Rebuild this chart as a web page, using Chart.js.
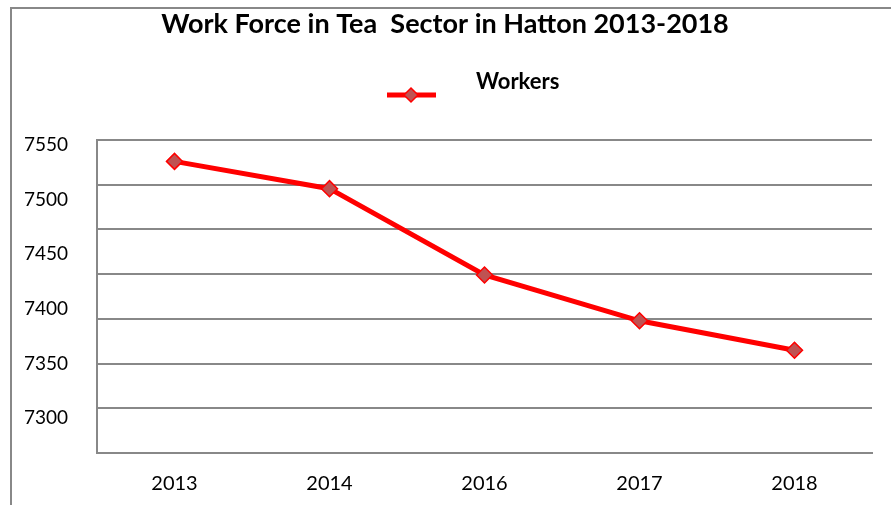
<!DOCTYPE html>
<html>
<head>
<meta charset="utf-8">
<script src="https://cdn.jsdelivr.net/npm/chart.js@4/dist/chart.umd.min.js"></script>
<style>
  html, body { margin: 0; padding: 0; background: #fff; }
  #wrap { width: 891px; height: 505px; }
</style>
</head>
<body>
<div id="wrap"><canvas id="chart" width="891" height="505"></canvas></div>
<script>
const years = ['2013', '2014', '2016', '2017', '2018'];
const workers = [7535, 7510, 7431, 7389, 7362];
const yTicks = [7300, 7350, 7400, 7450, 7500, 7550];
const gridSteps = [0, 1, 2, 3, 4, 5, 6, 7];

const titleText = 'Work Force in Tea  Sector in Hatton 2013-2018';
const seriesName = 'Workers';
const lineColor = '#ff0000';
const markerFill = '#bf5252';
const gridColor = '#888888';
const fontFamily = 'Lato, "Open Sans", sans-serif';

// frame, title and legend are drawn by hand to match the original layout
const decorations = {
    id: 'decorations',
    beforeDraw(chart) {
        const ctx = chart.ctx;
        ctx.save();
        ctx.strokeStyle = gridColor;
        ctx.lineWidth = 2;
        ctx.beginPath();
        ctx.moveTo(11, 505);
        ctx.lineTo(11, 8);
        ctx.lineTo(891, 8);
        ctx.stroke();
        ctx.restore();
    },
    afterDraw(chart) {
        const ctx = chart.ctx;
        ctx.save();
        ctx.fillStyle = '#000';
        ctx.textAlign = 'center';
        ctx.textBaseline = 'alphabetic';
        ctx.font = 'bold 27px ' + fontFamily;
        ctx.fillText(titleText, 445, 33);

        // legend line + marker
        ctx.strokeStyle = lineColor;
        ctx.lineWidth = 5;
        ctx.beginPath();
        ctx.moveTo(387, 95);
        ctx.lineTo(436, 95);
        ctx.stroke();
        ctx.fillStyle = markerFill;
        ctx.lineWidth = 1.5;
        ctx.beginPath();
        ctx.moveTo(411, 88); ctx.lineTo(418, 95); ctx.lineTo(411, 102); ctx.lineTo(404, 95);
        ctx.closePath();
        ctx.fill();
        ctx.stroke();

        ctx.fillStyle = '#000';
        ctx.textAlign = 'left';
        ctx.font = 'bold 22px ' + fontFamily;
        ctx.fillText(seriesName, 476, 89);
        ctx.restore();
    }
};

const ctx = document.getElementById('chart').getContext('2d');
new Chart(ctx, {
    type: 'line',
    data: {
        labels: years,
        datasets: [{
            label: seriesName,
            data: workers,
            borderColor: lineColor,
            borderWidth: 5,
            backgroundColor: markerFill,
            pointStyle: 'rectRot',
            pointRadius: 8,
            pointBorderWidth: 1.5,
            pointBorderColor: lineColor,
            pointBackgroundColor: markerFill,
            tension: 0,
            fill: false,
            yAxisID: 'y'
        }]
    },
    options: {
        responsive: false,
        animation: false,
        layout: { padding: { top: 140, right: 19, left: 0, bottom: 0 } },
        plugins: {
            legend: { display: false },
            title: { display: false },
            tooltip: { enabled: false }
        },
        scales: {
            x: {
                offset: true,
                grid: { display: false, drawTicks: false },
                border: { display: true, color: gridColor, width: 2 },
                ticks: {
                    color: '#000',
                    padding: 19,
                    font: { family: fontFamily, size: 20 }
                },
                afterFit(scale) { scale.height = 52; }
            },
            y: {
                position: 'left',
                min: 7267.95,
                max: 7554.58,
                afterBuildTicks(scale) {
                    scale.ticks = yTicks.map(v => ({ value: v }));
                },
                grid: { display: false, drawTicks: false },
                border: { display: true, color: gridColor, width: 2 },
                ticks: {
                    color: '#000',
                    padding: 29,
                    font: { family: fontFamily, size: 19 },
                    callback: v => String(v)
                },
                afterFit(scale) { scale.width = 97; }
            },
            yg: {
                position: 'left',
                min: gridSteps[0],
                max: gridSteps[gridSteps.length - 1],
                afterBuildTicks(scale) {
                    scale.ticks = gridSteps.map(v => ({ value: v }));
                },
                grid: { color: gridColor, lineWidth: 2, drawTicks: false },
                border: { display: false },
                ticks: { display: false },
                afterFit(scale) { scale.width = 0; }
            }
        }
    },
    plugins: [decorations]
});
</script>
</body>
</html>
